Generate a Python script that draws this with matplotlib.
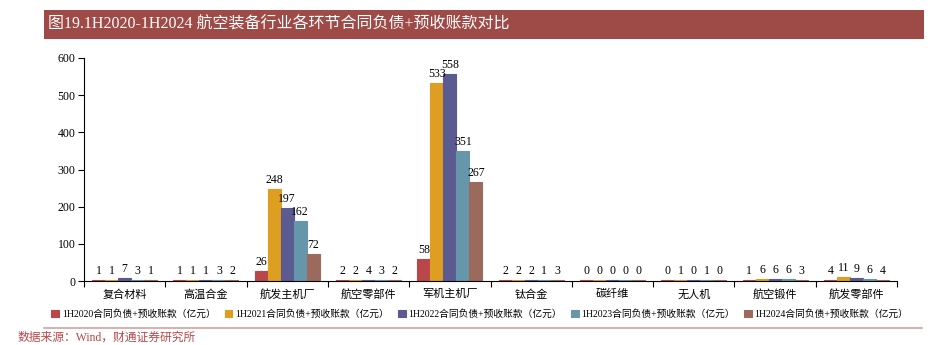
import numpy as np
import matplotlib
matplotlib.use("Agg")
import matplotlib.pyplot as plt
from matplotlib.patches import Rectangle

plt.rcParams['font.family'] = ['Liberation Serif', 'Noto Sans CJK SC', 'DejaVu Sans']

categories = ['复合材料', '高温合金', '航发主机厂', '航空零部件', '军机主机厂',
              '钛合金', '碳纤维', '无人机', '航空锻件', '航发零部件']
series_names = ['1H2020合同负债+预收账款（亿元）', '1H2021合同负债+预收账款（亿元）',
                '1H2022合同负债+预收账款（亿元）', '1H2023合同负债+预收账款（亿元）',
                '1H2024合同负债+预收账款（亿元）']
v2020 = [1, 1, 26, 2, 58, 2, 0, 0, 1, 4]
v2021 = [1, 1, 248, 2, 533, 2, 0, 1, 6, 11]
v2022 = [7, 1, 197, 4, 558, 2, 0, 0, 6, 9]
v2023 = [3, 3, 162, 3, 351, 1, 0, 1, 6, 6]
v2024 = [1, 2, 72, 2, 267, 3, 0, 0, 3, 4]
series = [v2020, v2021, v2022, v2023, v2024]
colors = ['#B9474A', '#DE9E22', '#5B5B92', '#6696A9', '#9C6A5D']

W, H = 936, 345
fig = plt.figure(figsize=(W / 100, H / 100), dpi=100)

# title banner
fig.patches.append(Rectangle((44 / W, 1 - 39 / H), 880 / W, 29 / H,
                             transform=fig.transFigure, facecolor='#9E4A46',
                             edgecolor='none'))
fig.text(48 / W, 1 - 24.5 / H, '图19.1H2020-1H2024 航空装备行业各环节合同负债+预收账款对比',
         color='white', fontsize=11.5, va='center', ha='left')

ax = fig.add_axes([84 / W, 1 - 281 / H, (897 - 84) / W, (281 - 58) / H])
n = len(categories)
x = np.arange(n)
bw = 0.16
for i, (vals, c, name) in enumerate(zip(series, colors, series_names)):
    pos = x + (i - 2) * bw
    ax.bar(pos, [max(v, 3) for v in vals], width=bw, color=c, label=name,
           edgecolor=c, linewidth=0.8)
    for px, v in zip(pos, vals):
        ax.text(px, max(v, 3) + 8, str(v), ha='center', va='bottom', fontsize=8.5)

ax.set_xlim(-0.5, n - 0.5)
ax.set_ylim(0, 600)
ax.set_yticks(range(0, 601, 100))
ax.tick_params(axis='y', labelsize=8.5, length=4, width=0.8, direction='out', pad=2)
ax.set_xticks(np.arange(-0.5, n, 1.0))
ax.set_xticklabels([])
ax.tick_params(axis='x', length=4, width=0.8, direction='out')
for xi, cat in zip(x, categories):
    ax.text(xi, -22, cat, ha='center', va='top', fontsize=8)
for s in ['top', 'right']:
    ax.spines[s].set_visible(False)
ax.spines['left'].set_linewidth(0.8)
ax.spines['bottom'].set_linewidth(0.8)

fig.legend(loc='center', bbox_to_anchor=(480 / W, 1 - 314 / H), ncol=5, frameon=False,
           fontsize=7, handlelength=0.8, handleheight=0.8, handletextpad=0.3,
           columnspacing=0.9)

# separator line and source
fig.add_artist(plt.Line2D([44 / W, 922 / W], [1 - 328 / H, 1 - 328 / H],
                          transform=fig.transFigure, color='#D9A0A0', linewidth=1.2))
fig.text(18 / W, 1 - 344 / H, '数据来源：Wind，财通证券研究所', color='#B9474A',
         fontsize=8.5, va='bottom', ha='left')

fig.savefig('out.png', dpi=100)
